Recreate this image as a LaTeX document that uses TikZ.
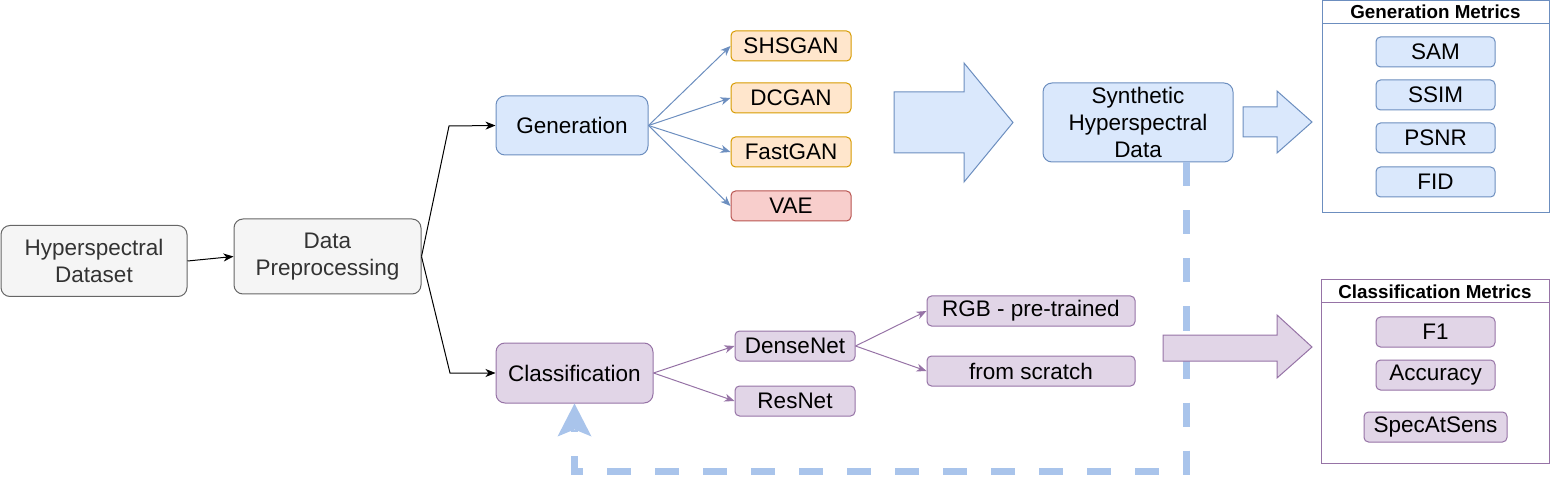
\documentclass[tikz,border=0pt]{standalone}
\usepackage{fontspec}
\setmainfont{Liberation Sans}
\usetikzlibrary{arrows.meta}
\definecolor{grayF}{HTML}{F5F5F5}
\definecolor{grayS}{HTML}{666666}
\definecolor{grayT}{HTML}{333333}
\definecolor{blueF}{HTML}{DAE8FC}
\definecolor{blueS}{HTML}{6C8EBF}
\definecolor{orF}{HTML}{FFE6CC}
\definecolor{orS}{HTML}{D79B00}
\definecolor{redF}{HTML}{F8CECC}
\definecolor{redS}{HTML}{B85450}
\definecolor{purF}{HTML}{E1D5E7}
\definecolor{purS}{HTML}{9673A6}
\definecolor{dashC}{HTML}{A9C4EB}
\begin{document}
\begin{tikzpicture}[x=1pt,y=-1pt,
  every node/.style={font=\fontsize{22.5}{27}\selectfont, inner sep=0pt, align=center, line width=1pt},
  bigbox/.style={draw, rounded corners=9pt},
  smallbox/.style={draw, rounded corners=4.5pt, minimum height=30pt},
  graybox/.style={bigbox, draw=grayS, fill=grayF, text=grayT},
  bluebox/.style={bigbox, draw=blueS, fill=blueF},
  purbox/.style={bigbox, draw=purS, fill=purF},
  orsmall/.style={smallbox, draw=orS, fill=orF, minimum width=120pt},
  redsmall/.style={smallbox, draw=redS, fill=redF, minimum width=120pt},
  bluesmall/.style={smallbox, draw=blueS, fill=blueF, minimum width=119pt},
  pursmall/.style={smallbox, draw=purS, fill=purF},
  frame/.style={draw, fill=white},
  titlebox/.style={draw, fill=white, minimum height=23pt, font=\fontsize{18.8}{22}\selectfont\bfseries},
  blk/.style={draw=black, line width=1pt, -{Stealth[length=10pt,width=8pt,inset=3pt]}},
  bluecon/.style={draw=blueS, line width=1pt, -{Stealth[length=10pt,width=8pt,inset=3pt]}},
  purcon/.style={draw=purS, line width=1pt, -{Stealth[length=10pt,width=8pt,inset=3pt]}},
  fatarrow/.style={line width=1pt, line join=miter},
  dashline/.style={draw=dashC, line width=7pt, dash pattern=on 24pt off 24pt,
    -{Stealth[length=33pt,width=34pt,inset=7pt,line width=0pt]}}
]
\useasboundingbox (0,0) rectangle (1550,486);

% left part
\node[graybox, minimum width=186pt, minimum height=71pt] (ds) at (94,261) {Hyperspectral\\Dataset};
\node[graybox, minimum width=187pt, minimum height=75pt] (pre) at (327.5,256.5) {Data\\Preprocessing};
\node[bluebox, minimum width=152pt, minimum height=59pt] (gen) at (572,125.5) {Generation};
\node[purbox, minimum width=157pt, minimum height=60pt] (cls) at (574.5,373) {Classification};

% generative models
\node[orsmall] (shs) at (791,46) {SHSGAN};
\node[orsmall] (dcg) at (791,98) {DCGAN};
\node[orsmall] (fgan) at (791,152) {FastGAN};
\node[redsmall] (vae) at (791,206) {VAE};

% classifiers
\node[pursmall, minimum width=120pt] (dense) at (795,346) {DenseNet};
\node[pursmall, minimum width=120pt] (res) at (795,401) {ResNet};
\node[pursmall, minimum width=208pt] (rgb) at (1031,311) {RGB - pre-trained};
\node[pursmall, minimum width=208pt] (scr) at (1031,371) {from scratch};

% synthetic data
\node[bluebox, minimum width=190pt, minimum height=79pt] (syn) at (1138,122.5) {Synthetic\\Hyperspectral\\Data};

% generation metrics
\node[frame, draw=blueS, minimum width=227pt, minimum height=212pt] (gmf) at (1435.5,107) {};
\node[titlebox, draw=blueS, minimum width=227pt] (gmt) at (1435.5,12) {Generation Metrics};
\node[bluesmall] (sam) at (1435.5,52) {SAM};
\node[bluesmall] (ssim) at (1435.5,95) {SSIM};
\node[bluesmall] (psnr) at (1435.5,138) {PSNR};
\node[bluesmall] (fid) at (1435.5,182) {FID};

% classification metrics
\node[frame, draw=purS, minimum width=228pt, minimum height=183pt] (cmf) at (1435,371.5) {};
\node[titlebox, draw=purS, minimum width=228pt] (cmt) at (1435,291.5) {Classification Metrics};
\node[pursmall, minimum width=119pt] (f1) at (1435.5,332) {F1};
\node[pursmall, minimum width=119pt] (acc) at (1435.5,375) {Accuracy};
\node[pursmall, minimum width=143pt] (spec) at (1435.5,427) {SpecAtSens};

% big arrows
\draw[fatarrow, draw=blueS, fill=blueF] (894,92) -- (964,92) -- (964,63) -- (1013,122.5) -- (964,182) -- (964,153) -- (894,153) -- cycle;
\draw[fatarrow, draw=blueS, fill=blueF] (1243,107) -- (1277,107) -- (1277,91) -- (1312,122) -- (1277,153) -- (1277,137) -- (1243,137) -- cycle;

% connectors
\draw[blk] (ds.east) -- (pre.west);
\coordinate (bu) at (449,126);
\coordinate (bd) at (450,373);
\draw[blk] (pre.east) -- (bu) -- (gen.west);
\draw[blk] (pre.east) -- (bd) -- (cls.west);
\foreach \t in {shs,dcg,fgan,vae} \draw[bluecon] (gen.east) -- (\t.west);
\draw[purcon] (cls.east) -- (dense.west);
\draw[purcon] (cls.east) -- (res.west);
\draw[purcon] (dense.east) -- (rgb.west);
\draw[purcon] (dense.east) -- (scr.west);

% dashed feedback
\coordinate (dstart) at ([xshift=48.5pt]syn.south);
\coordinate (dlow) at (0,471);
\draw[dashline] (dstart) -- (dstart |- dlow) -- (cls.south |- dlow) -- (cls.south);

% pink arrow (over the dashed line)
\draw[fatarrow, draw=purS, fill=purF] (1163,335) -- (1277,335) -- (1277,315) -- (1312,347) -- (1277,378) -- (1277,361) -- (1163,361) -- cycle;
\end{tikzpicture}
\end{document}
